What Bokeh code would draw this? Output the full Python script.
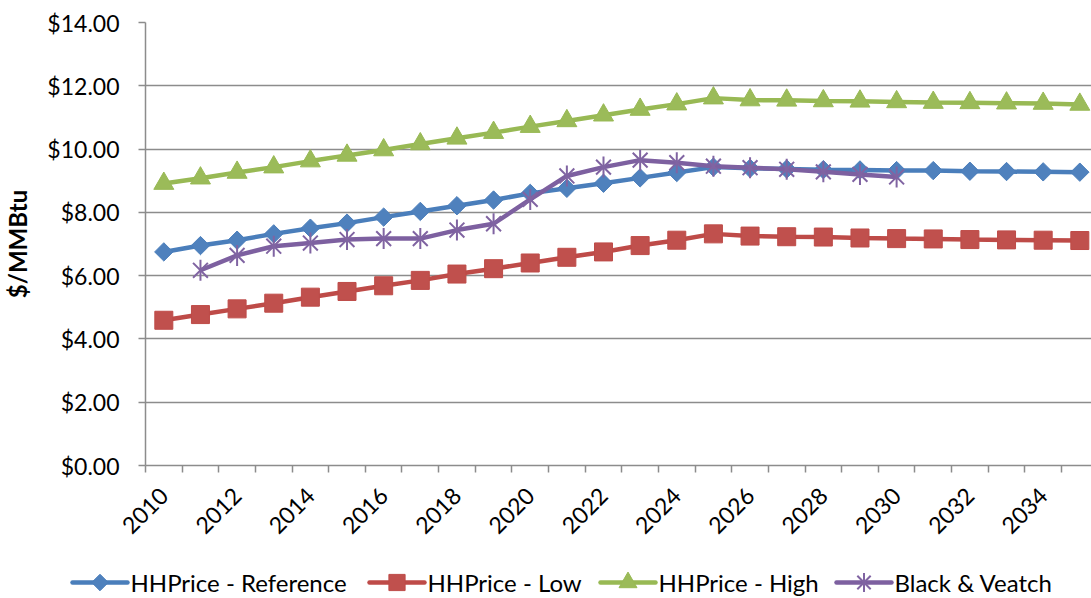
import numpy as np
from bokeh.plotting import figure
from bokeh.layouts import column
from bokeh.models import FixedTicker, Range1d, PrintfTickFormatter
from bokeh.core.properties import value
from bokeh.embed import file_html
from bokeh.resources import INLINE

# ---------------- data ----------------
years = list(range(2010, 2036))
ref = [6.75, 6.95, 7.12, 7.32, 7.50, 7.66, 7.85, 8.03, 8.21, 8.39,
       8.60, 8.76, 8.92, 9.09, 9.26, 9.43, 9.39, 9.37, 9.35, 9.34,
       9.32, 9.32, 9.30, 9.29, 9.28, 9.27]
low = [4.59, 4.77, 4.95, 5.13, 5.32, 5.50, 5.68, 5.85, 6.05, 6.22,
       6.40, 6.58, 6.75, 6.95, 7.12, 7.32, 7.25, 7.23, 7.22, 7.19,
       7.17, 7.16, 7.14, 7.13, 7.12, 7.11]
high = [8.91, 9.08, 9.26, 9.43, 9.62, 9.80, 9.97, 10.16, 10.34, 10.52,
        10.71, 10.89, 11.07, 11.25, 11.42, 11.61, 11.55, 11.54, 11.52, 11.51,
        11.49, 11.47, 11.46, 11.45, 11.44, 11.41]
bv_years = list(range(2011, 2031))
bv = [6.17, 6.64, 6.93, 7.03, 7.14, 7.17, 7.17, 7.44, 7.64, 8.41,
      9.15, 9.43, 9.65, 9.57, 9.46, 9.41, 9.36, 9.28, 9.20, 9.12]
series_names = ["HHPrice - Reference", "HHPrice - Low", "HHPrice - High", "Black & Veatch"]
y_ticks = [0, 2, 4, 6, 8, 10, 12, 14]
x_label_years = list(range(2010, 2035, 2))
y_title = "$/MMBtu"

# ---------------- style ----------------
FONT = "Lato"
GRID = "#8c8c8c"
LINE_COLORS = ["#4A7EBB", "#BE4B48", "#98B954", "#7D60A0"]
FILL_COLORS = ["#4F81BD", "#C0504D", "#9BBB59", "#8064A2"]
LW = 4.5
CAT_PX = 36.64
W = 1091
H_MAIN, H_LEG = 556, 42
ML, MT, MB = 145, 22, 91
frame_w = W - ML
x_start = years[0] - 0.5
x_end = x_start + frame_w / CAT_PX

p = figure(width=W, height=H_MAIN, output_backend="svg", toolbar_location=None,
           x_range=Range1d(x_start, x_end), y_range=Range1d(y_ticks[0], y_ticks[-1]),
           min_border_left=ML, min_border_right=0, min_border_top=MT, min_border_bottom=MB)
p.frame_align = False
p.outline_line_color = None
p.background_fill_color = "white"
p.border_fill_color = "white"

# y axis
p.yaxis.ticker = FixedTicker(ticks=y_ticks)
p.yaxis.formatter = PrintfTickFormatter(format="$%.2f")
p.yaxis.major_label_text_font = FONT
p.yaxis.major_label_text_font_size = "23px"
p.yaxis.major_label_text_color = "#000000"
p.yaxis.axis_line_color = GRID
p.yaxis.axis_line_width = 1.5
p.yaxis.major_tick_line_color = GRID
p.yaxis.major_tick_line_width = 1.5
p.yaxis.major_tick_out = 7
p.yaxis.major_tick_in = 0
p.yaxis.minor_tick_line_color = None
p.yaxis.major_label_standoff = 19
p.yaxis.axis_label = y_title
p.yaxis.axis_label_text_font = FONT
p.yaxis.axis_label_text_font_style = "bold"
p.yaxis.axis_label_text_font_size = "24px"
p.yaxis.axis_label_text_color = "#000000"
p.yaxis.axis_label_standoff = 12

# x axis
bounds = [y - 0.5 for y in years] + [years[-1] + 0.5]
p.xaxis.ticker = FixedTicker(ticks=x_label_years, minor_ticks=bounds)
p.xaxis.major_label_orientation = np.pi / 4
p.xaxis.major_label_text_font = FONT
p.xaxis.major_label_text_font_size = "23px"
p.xaxis.major_label_text_color = "#000000"
p.xaxis.major_tick_line_color = None
p.xaxis.major_tick_out = 0
p.xaxis.major_tick_in = 0
p.xaxis.minor_tick_line_color = GRID
p.xaxis.minor_tick_line_width = 1.5
p.xaxis.minor_tick_out = 7
p.xaxis.minor_tick_in = 0
p.xaxis.axis_line_color = GRID
p.xaxis.axis_line_width = 1.5
p.xaxis.major_label_standoff = 19

p.xgrid.visible = False
p.ygrid.ticker = FixedTicker(ticks=y_ticks)
p.ygrid.grid_line_color = GRID
p.ygrid.grid_line_width = 1.5


def draw_markers(fig, xs, ys, i, scale=1.0):
    lc, fc = LINE_COLORS[i], FILL_COLORS[i]
    if i == 0:
        fig.scatter(xs, ys, marker="square", angle=np.pi / 4, size=13 * scale,
                    fill_color=fc, line_color=lc, line_width=1)
    elif i == 1:
        fig.scatter(xs, ys, marker="square", size=18 * scale,
                    fill_color=fc, line_color=lc, line_width=1)
    elif i == 2:
        fig.scatter(xs, ys, marker="triangle", size=20 * scale,
                    fill_color=fc, line_color=lc, line_width=1)
    else:
        fig.scatter(xs, ys, marker="x", size=21 * scale, line_color=fc, line_width=2)
        fig.scatter(xs, ys, marker="dash", angle=np.pi / 2, size=21 * scale,
                    line_color=fc, line_width=2)


# ---------------- series ----------------
series = [(years, ref), (years, low), (years, high), (bv_years, bv)]
for i, (xs, ys) in enumerate(series):
    p.line(xs, ys, line_color=LINE_COLORS[i], line_width=LW)
    draw_markers(p, xs, ys, i)

# ---------------- legend (separate strip below the chart) ----------------
leg_glyph_x = [72, 369, 600, 836]   # page-pixel layout of legend entries
GLYPH_W = 55
LEG_Y = 16
pl = figure(width=W, height=H_LEG, output_backend="svg", toolbar_location=None,
            x_range=Range1d(0, W), y_range=Range1d(0, H_LEG),
            min_border_left=0, min_border_right=0, min_border_top=0, min_border_bottom=0)
pl.frame_align = False
pl.axis.visible = False
pl.grid.visible = False
pl.outline_line_color = None
pl.background_fill_color = "white"
pl.border_fill_color = "white"
for i, gx in enumerate(leg_glyph_x):
    pl.line([gx, gx + GLYPH_W], [LEG_Y, LEG_Y], line_color=LINE_COLORS[i], line_width=LW,
            line_cap="round")
    draw_markers(pl, [gx + GLYPH_W / 2], [LEG_Y], i, scale=0.9)
pl.text(x=[gx + GLYPH_W + 3 for gx in leg_glyph_x], y=[LEG_Y] * 4, text=series_names,
        text_font=value(FONT), text_font_size="24px", text_baseline="middle",
        text_align="left", text_color="#000000")

layout = column(p, pl, spacing=0)
open("out.html", "w").write(file_html(layout, INLINE))
